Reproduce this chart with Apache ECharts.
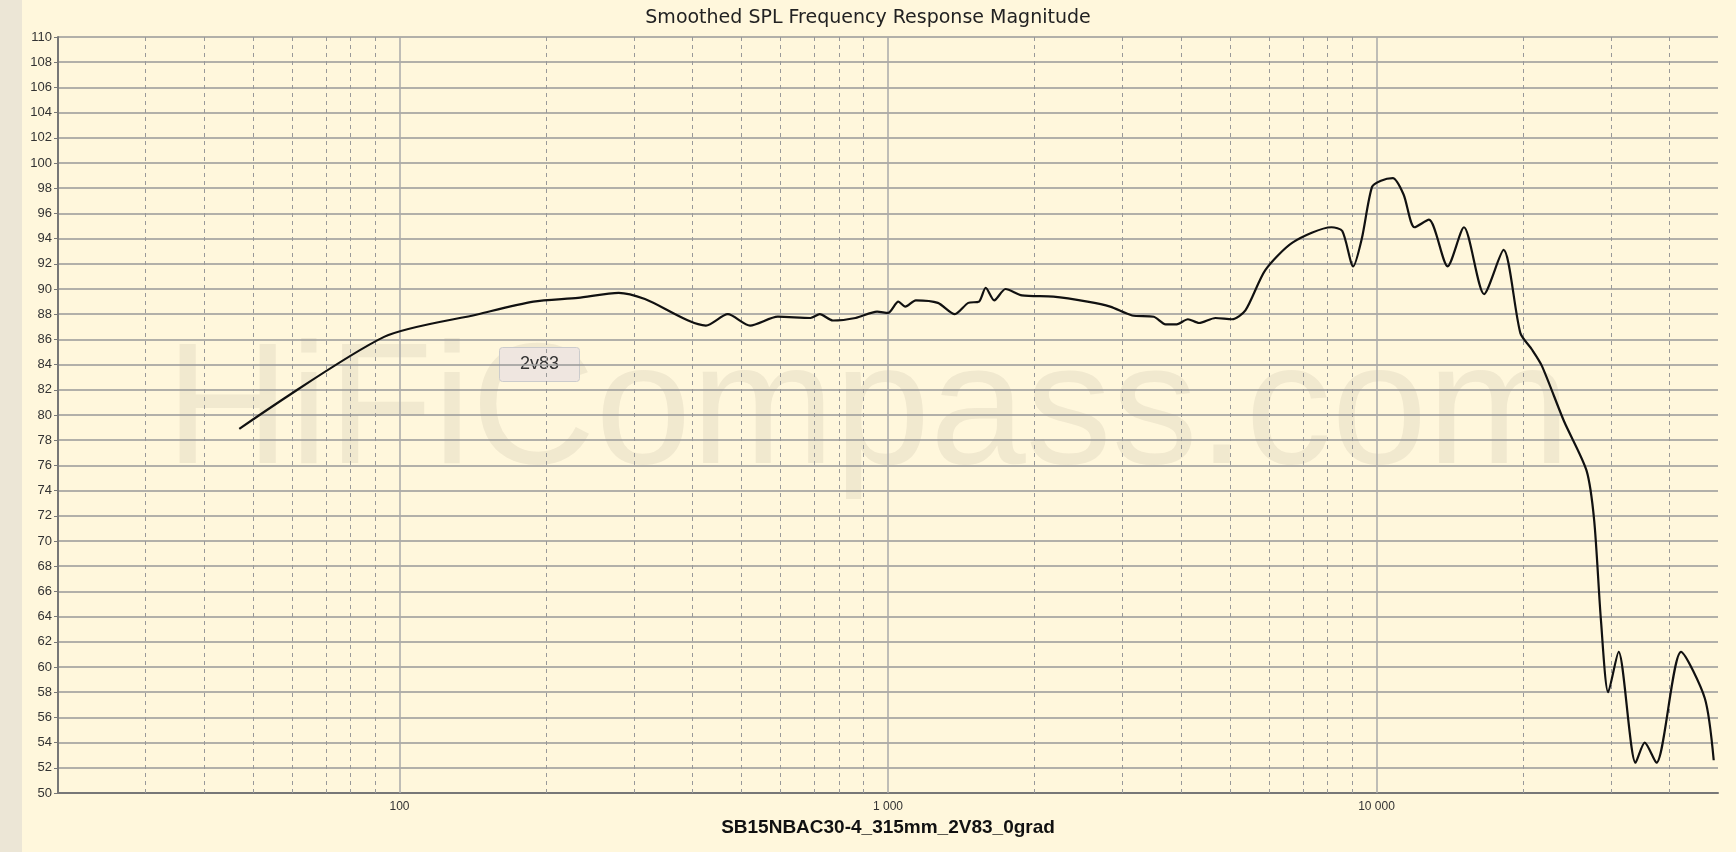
<!DOCTYPE html>
<html><head><meta charset="utf-8">
<script src="https://cdn.jsdelivr.net/npm/echarts@6/dist/echarts.min.js"></script>
<style>html,body{margin:0;padding:0;background:#fff7dc}#c{width:1736px;height:852px}</style>
</head><body><div id="c"></div>
<script>
const freqs = [47,93,145,188,232,281,318,424,470,522,595,694,725,771,858,950,1000,1050,1085,1140,1265,1370,1460,1536,1585,1650,1740,1880,2180,2560,2850,3160,3500,3700,3900,4110,4330,4680,5060,5390,5920,6740,8090,8510,8960,9330,9790,10210,10800,11360,11960,12800,13980,15100,16600,18200,19700,20800,21800,24200,26900,27900,28800,29800,31300,33900,35400,37400,42000,47000,49000];
const spl = [78.9,86.2,88.0,89.0,89.3,89.7,89.2,87.1,88.0,87.1,87.8,87.7,88.0,87.5,87.7,88.2,88.1,89.0,88.6,89.1,88.9,88.0,88.9,89.0,90.1,89.1,90.0,89.5,89.4,89.0,88.6,87.9,87.8,87.2,87.2,87.6,87.3,87.7,87.6,88.3,91.5,93.7,94.9,94.6,91.8,94.0,98.1,98.6,98.8,97.5,94.9,95.5,91.8,94.9,89.6,93.1,86.5,85.2,83.9,79.5,75.6,71.6,63.7,58.0,61.2,52.4,54.0,52.4,61.2,57.5,52.6];
const majorTicks = [100,1000,10000];
const majorLabels = ['100','1 000','10 000'];
const minorLines = [20,30,40,50,60,70,80,90,200,300,400,500,600,700,800,900,2000,3000,4000,5000,6000,7000,8000,9000,20000,30000,40000,50000];
const L = Math.log10;
const chart = echarts.init(document.getElementById('c'));
const mk = [];
minorLines.forEach(f=>mk.push({xAxis:L(f),lineStyle:{type:[4,4],color:'#999',width:1}}));
majorTicks.forEach(f=>mk.push({xAxis:L(f),lineStyle:{type:'solid',color:'#aaa',width:1.5}}));
chart.setOption({
  backgroundColor:'#fff7dc',
  animation:false,
  title:{text:'Smoothed SPL Frequency Response Magnitude',left:'center',top:4,textStyle:{fontFamily:'DejaVu Sans',fontSize:19,fontWeight:'normal',color:'#222'}},
  grid:{left:58,right:18,top:37,bottom:59},
  graphic:[
    {type:'rect',left:0,top:0,shape:{width:22,height:852},style:{fill:'#ece6d6'},z:-1},
    {type:'text',left:'center',top:330,z:0,style:{text:'HiFiCompass.com',font:'172px Arial',fill:'rgba(140,130,115,0.12)'}},
    {type:'group',left:499,top:347,z:100,children:[
      {type:'rect',shape:{width:80,height:34,r:3},style:{fill:'#efe6e0',stroke:'#ccc'}},
      {type:'text',style:{x:40,y:17,text:'2v83',align:'center',verticalAlign:'middle',font:'18px Arial',fill:'#333'}}
    ]}
  ],
  xAxis:{type:'value',min:L(20),max:L(50000),
    name:'SB15NBAC30-4_315mm_2V83_0grad',nameLocation:'middle',nameGap:25,
    nameTextStyle:{fontFamily:'Liberation Sans',fontSize:19,fontWeight:'bold',color:'#111'},
    axisLine:{lineStyle:{color:'#777',width:2}},
    splitLine:{show:false},
    axisTick:{show:false},
    axisLabel:{customValues:majorTicks.map(L),fontSize:12,color:'#333',margin:8,formatter:v=>{const i=majorTicks.findIndex(f=>Math.abs(L(f)-v)<1e-6);return i>=0?majorLabels[i]:'';}}
  },
  yAxis:{type:'value',min:50,max:110,interval:2,
    axisLine:{show:true,lineStyle:{color:'#777',width:2}},
    axisTick:{show:true,length:4,lineStyle:{color:'#777'}},
    axisLabel:{fontSize:13,color:'#333',margin:6,fontFamily:'Liberation Sans'},
    splitLine:{lineStyle:{color:'#999',width:1.5}}
  },
  series:[{type:'line',data:freqs.map((f,i)=>[L(f),spl[i]]),showSymbol:false,smooth:0.25,
    lineStyle:{color:'#111',width:2.2},z:10,
    markLine:{silent:true,symbol:'none',label:{show:false},data:mk,z:1}}]
});
</script></body></html>
